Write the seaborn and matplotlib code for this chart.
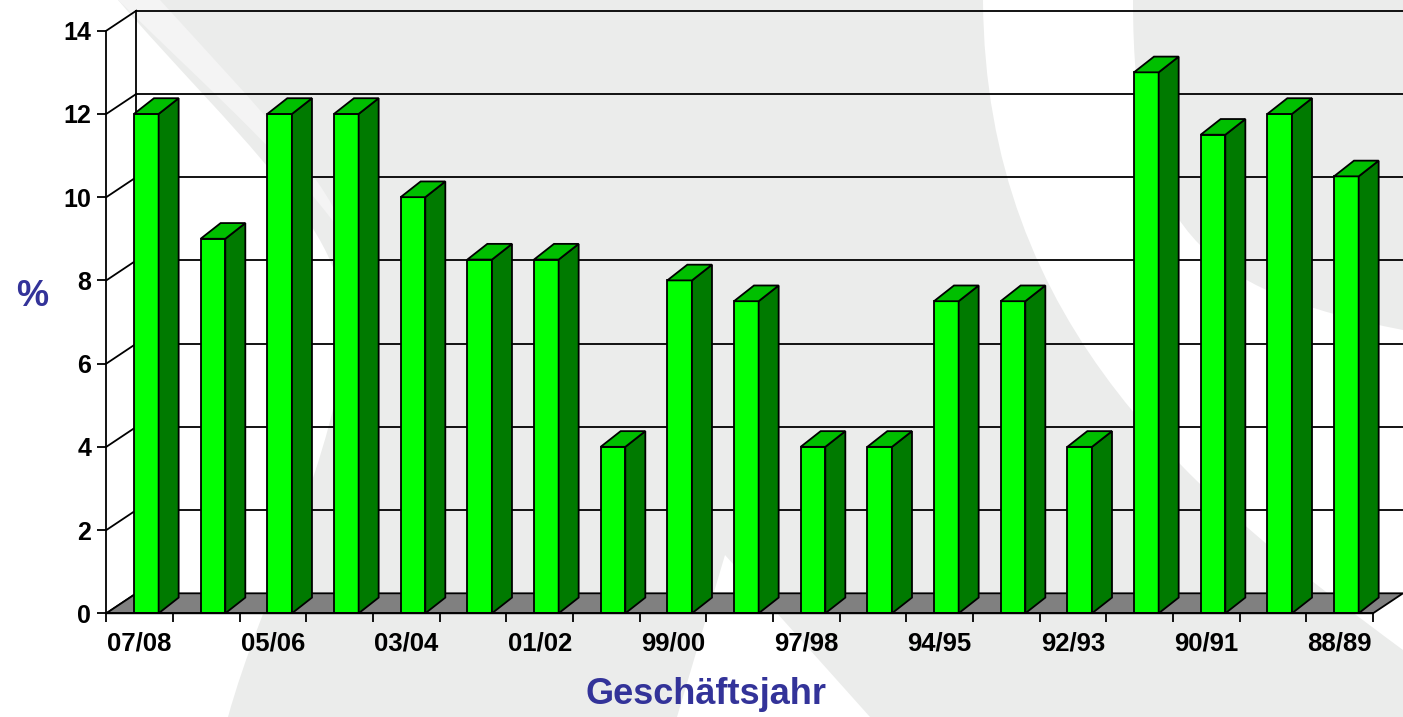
import numpy as np
import pandas as pd
import seaborn as sns
import matplotlib.pyplot as plt
from matplotlib.patches import Polygon, PathPatch
from matplotlib.path import Path

# --- Data ---
years = ["07/08", "06/07", "05/06", "04/05", "03/04", "02/03", "01/02", "00/01",
         "99/00", "98/99", "97/98", "96/97", "94/95", "93/94", "92/93", "91/92",
         "90/91", "89/90", "88/89"]
values = [12, 9, 12, 12, 10, 8.5, 8.5, 4, 8, 7.5, 4, 4, 7.5, 7.5, 4, 13, 11.5, 12, 10.5]
yticks = [0, 2, 4, 6, 8, 10, 12, 14]
shown_labels = years[::2]

plt.rcParams['font.family'] = ['Liberation Sans', 'DejaVu Sans']
plt.rcParams['font.weight'] = 'bold'

W, H = 1403, 717
fig = plt.figure(figsize=(W / 100, H / 100), dpi=100)

# --- Slide background (pixel coords) ---
bg = fig.add_axes([0, 0, 1, 1], zorder=-10)
gray = '#ebeceb'
bg.add_patch(Polygon([(0, 0), (W, 0), (W, H), (0, H)], fc=gray, ec='none'))

M, L, C, Z = Path.MOVETO, Path.LINETO, Path.CURVE4, Path.CLOSEPOLY
left_white = Path([(0, 0), (118, 0), (230, 130), (350, 230), (345, 330),
                   (340, 450), (260, 600), (228, 717), (0, 717), (0, 0)],
                  [M, L, C, C, C, C, C, C, L, Z])
bg.add_patch(PathPatch(left_white, fc='white', ec='none'))
stripe = Path([(118, 0), (160, 0), (260, 110), (330, 180), (350, 245),
               (300, 170), (220, 100), (118, 0)],
              [M, L, C, C, C, C, C, C])
bg.add_patch(PathPatch(stripe, fc='#f4f4f4', ec='none'))
crescent = Path([(983, 0), (985, 330), (1200, 500), (1403, 650), (1403, 330),
                 (1200, 290), (1133, 230), (1133, 0), (983, 0)],
                [M, C, C, C, L, C, C, C, Z])
bg.add_patch(PathPatch(crescent, fc='white', ec='none'))
bg.add_patch(Polygon([(725, 555), (677, 717), (870, 717)], fc='white', ec='none'))
grad = np.ones((1, 12, 4))
grad[0, :, 1] = 0.8
grad[0, :, 2] = 0.5
grad[0, :, 3] = np.linspace(0.9, 0, 12)
bg.imshow(grad, extent=(0, 9, H, 0), aspect='auto')
bg.set_xlim(0, W)
bg.set_ylim(H, 0)
bg.axis('off')

# --- Chart axes ---
x0, x1, y0, y14 = 106.3, 1373, 613.3, 30.7
ax = fig.add_axes([x0 / W, (H - y0) / H, (x1 - x0) / W, (y0 - y14) / H])
ax.patch.set_alpha(0)

df = pd.DataFrame({'year': years, 'value': values})
bar_w = 0.37
sns.barplot(data=df, x='year', y='value', color='#00ff00', saturation=1,
            width=bar_w, edgecolor='black', linewidth=1.3, errorbar=None,
            ax=ax, zorder=3)

xmin, xmax = -0.6, 18.4
ax.set_xlim(xmin, xmax)
ax.set_ylim(0, 14)

px_x = (x1 - x0) / 19
px_y = (y0 - y14) / 14
wdx, wdy = 30 / px_x, 20 / px_y      # back wall offset
bdx, bdy = 20 / px_x, 15.7 / px_y    # bar depth

lw = 1.3
# floor
ax.add_patch(Polygon([(xmin, 0), (xmax, 0), (xmax + wdx, wdy), (xmin + wdx, wdy)],
                     fc='#808080', ec='black', lw=lw, clip_on=False, zorder=1))
# back wall gridlines and side diagonals
for t in yticks:
    if t > 0:
        ax.plot([xmin + wdx, xmax + wdx], [t + wdy, t + wdy], color='black', lw=lw,
                clip_on=False, zorder=0.5)
    ax.plot([xmin, xmin + wdx], [t, t + wdy], color='black', lw=lw, clip_on=False, zorder=0.5)
ax.plot([xmin + wdx, xmin + wdx], [wdy, 14 + wdy], color='black', lw=lw, clip_on=False, zorder=0.5)

# 3D side and top faces
for i, v in enumerate(values):
    xl, xr = i - bar_w / 2, i + bar_w / 2
    side = [(xr, 0), (xr + bdx, bdy), (xr + bdx, v + bdy), (xr, v)]
    top = [(xl, v), (xr, v), (xr + bdx, v + bdy), (xl + bdx, v + bdy)]
    ax.add_patch(Polygon(side, fc='#007a00', ec='black', lw=lw, clip_on=False, zorder=3))
    ax.add_patch(Polygon(top, fc='#00bf00', ec='black', lw=lw, clip_on=False, zorder=3))

# spines
for s in ['top', 'right']:
    ax.spines[s].set_visible(False)
for s in ['left', 'bottom']:
    ax.spines[s].set_linewidth(lw)
    ax.spines[s].set_zorder(4)

ax.set_yticks(yticks, labels=[str(t) for t in yticks])
ax.tick_params(axis='y', length=6.5, width=lw, pad=4.3, labelsize=18, colors='black')
ax.set_xticks(np.arange(20) + xmin, labels=[''] * 20)
ax.set_xticks([i - 0.1 for i in range(0, 19, 2)], labels=shown_labels, minor=True)
ax.tick_params(axis='x', which='major', length=6.5, width=lw)
ax.tick_params(axis='x', which='minor', length=0, pad=13, labelsize=18.5)
ax.set_xlabel('')
ax.set_ylabel('')

fig.text(32 / W, 1 - 297 / H, '%', color='#333399', fontsize=26, fontweight='bold',
         ha='center', va='center')
fig.text(706 / W, 1 - 695 / H, 'Geschäftsjahr', color='#333399', fontsize=26,
         fontweight='bold', ha='center', va='center')

fig.savefig('out.png', dpi=100)
